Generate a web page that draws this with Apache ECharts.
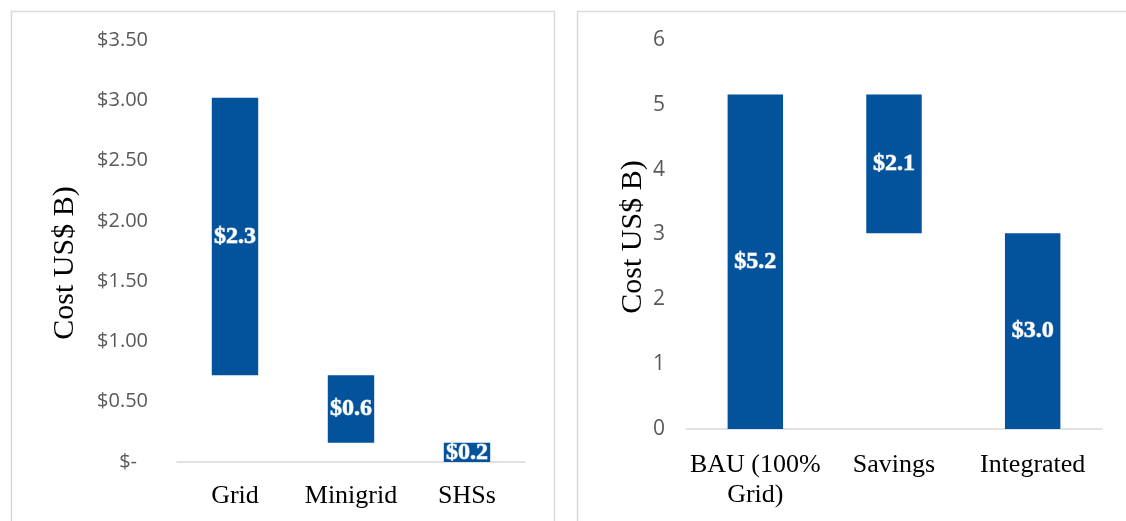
<!DOCTYPE html>
<html>
<head>
<meta charset="utf-8">
<script src="https://cdn.jsdelivr.net/npm/echarts@6/dist/echarts.min.js"></script>
<style>
  html, body { margin: 0; padding: 0; background: #ffffff; }
  #chart { width: 1126px; height: 521px; }
</style>
</head>
<body>
<div id="chart"></div>
<script>
// Left panel: cost by technology (US$ B)
const techCategories = ['Grid', 'Minigrid', 'SHSs'];
const techCosts = [2.3, 0.56, 0.16];

// Right panel: business-as-usual vs integrated plan (US$ B)
const planCategories = ['BAU (100%\nGrid)', 'Savings', 'Integrated'];
const bauCost = 5.16;
const savingsCost = 2.14;
const integratedCost = 3.02;
const planCosts = [bauCost, savingsCost, integratedCost];

const axisTitle = 'Cost US$ B)';

// Floating-bar offsets: each technology bar sits on top of the ones after it
const techBase = techCosts.map((_, i) =>
  techCosts.slice(i + 1).reduce((a, b) => a + b, 0));
// Savings bar hangs from the BAU total down to the integrated total
const planBase = [0, integratedCost, 0];

const barColor = '#02529C';
const serif = 'Liberation Serif';
const sans = 'Open Sans';

const valueLabel = {
  show: true,
  position: 'inside',
  color: '#ffffff',
  fontFamily: serif,
  fontWeight: 'bold',
  fontSize: 24,
  textBorderColor: 'rgba(190,205,225,0.9)',
  textBorderWidth: 1,
  formatter: p => '$' + p.value.toFixed(1)
};

const axisLineStyle = { show: true, lineStyle: { color: '#d9d9d9', width: 1.5 } };

const chart = echarts.init(document.getElementById('chart'), null, { renderer: 'canvas' });

chart.setOption({
  backgroundColor: '#ffffff',
  animation: false,
  graphic: [
    { type: 'rect', shape: { x: 11.5, y: 11.5, width: 543, height: 540 },
      style: { fill: 'none', stroke: '#d9d9d9', lineWidth: 1.5 }, silent: true },
    { type: 'rect', shape: { x: 577.5, y: 11.5, width: 600, height: 540 },
      style: { fill: 'none', stroke: '#d9d9d9', lineWidth: 1.5 }, silent: true },
    { type: 'text', x: 65, y: 263, rotation: Math.PI / 2,
      style: { text: axisTitle, font: '30px "' + serif + '"', fill: '#000000',
               align: 'center', verticalAlign: 'middle' } },
    { type: 'text', x: 633, y: 237, rotation: Math.PI / 2,
      style: { text: axisTitle, font: '30px "' + serif + '"', fill: '#000000',
               align: 'center', verticalAlign: 'middle' } }
  ],
  grid: [
    { left: 177, top: 40, width: 348, height: 422 },
    { left: 686, top: 40, width: 416, height: 389 }
  ],
  xAxis: [
    { type: 'category', gridIndex: 0, data: techCategories,
      axisLine: axisLineStyle, axisTick: { show: false },
      axisLabel: { interval: 0, color: '#000000', fontFamily: serif, fontSize: 26, lineHeight: 30, margin: 19 } },
    { type: 'category', gridIndex: 1, data: planCategories,
      axisLine: axisLineStyle, axisTick: { show: false },
      axisLabel: { interval: 0, color: '#000000', fontFamily: serif, fontSize: 26, lineHeight: 30, margin: 21 } }
  ],
  yAxis: [
    { type: 'value', gridIndex: 0, min: 0, max: 3.5, interval: 0.5,
      axisLine: { show: false }, axisTick: { show: false }, splitLine: { show: false },
      axisLabel: {
        color: '#595959', fontFamily: sans, fontSize: 20, margin: 29,
        formatter: v => v === 0 ? '{dash|$-}' : '$' + v.toFixed(2),
        rich: { dash: { color: '#595959', fontFamily: sans, fontSize: 20, padding: [0, 11, 0, 0] } }
      } },
    { type: 'value', gridIndex: 1, min: 0, max: 6, interval: 1,
      axisLine: { show: false }, axisTick: { show: false }, splitLine: { show: false },
      axisLabel: { color: '#595959', fontFamily: sans, fontSize: 21, margin: 21 } }
  ],
  series: [
    { type: 'bar', xAxisIndex: 0, yAxisIndex: 0, stack: 'tech', data: techBase,
      barWidth: '40%', itemStyle: { color: 'transparent' }, silent: true },
    { type: 'bar', xAxisIndex: 0, yAxisIndex: 0, stack: 'tech', data: techCosts,
      barWidth: '40%', itemStyle: { color: barColor }, label: valueLabel },
    { type: 'bar', xAxisIndex: 1, yAxisIndex: 1, stack: 'plan', data: planBase,
      barWidth: '40%', itemStyle: { color: 'transparent' }, silent: true },
    { type: 'bar', xAxisIndex: 1, yAxisIndex: 1, stack: 'plan', data: planCosts,
      barWidth: '40%', itemStyle: { color: barColor }, label: valueLabel }
  ]
});
</script>
</body>
</html>
